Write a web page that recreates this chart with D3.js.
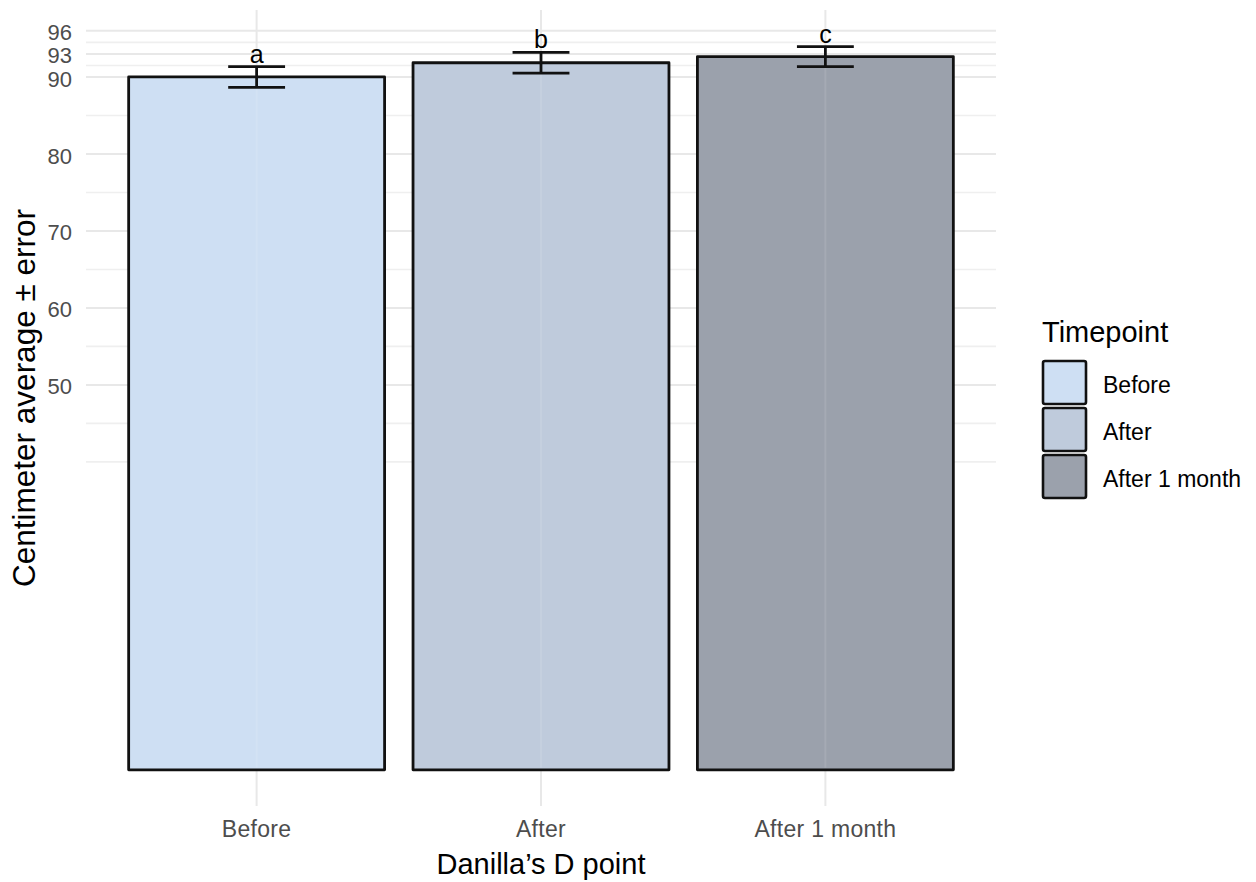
<!DOCTYPE html>
<html>
<head>
<meta charset="utf-8">
<script src="https://cdn.jsdelivr.net/npm/d3@7"></script>
<style>
  html, body { margin: 0; padding: 0; background: #ffffff; }
  svg { display: block; font-family: "Liberation Sans", Arial, sans-serif; }
</style>
</head>
<body>
<svg id="chart" width="1256" height="882"></svg>
<script>
// Danilla's D point measurements at three timepoints
const categories = ["Before", "After", "After 1 month"];
const means = [90.0, 91.85, 92.65];
const errors = [1.35, 1.35, 1.3];
const groupLetters = ["a", "b", "c"];
const fills = ["#cedff3", "#bfcbdc", "#9ba1ac"];
const yTicks = [50, 60, 70, 80, 90, 93, 96];
const yMinor = [40, 45, 55, 65, 75, 85, 91.5, 94.5];

const svg = d3.select("#chart");

// panel geometry
const panel = { left: 86, right: 996, top: 10, bottom: 806 };

const x = d3.scaleBand()
  .domain(categories)
  .range([panel.left, panel.right])
  .paddingOuter(0.1)
  .paddingInner(0);
// bar width is 90% of the step, error-bar caps 20%
const barW = x.step() * 0.9;
const capW = x.step() * 0.2;
const cx = d => x(d) + x.bandwidth() / 2;

const y = d3.scaleLinear()
  .domain([-4.7, 98.7])
  .range([panel.bottom, panel.top]);

const g = svg.append("g");

// minor horizontal grid
g.selectAll("line.minor")
  .data(yMinor).enter().append("line")
  .attr("class", "minor")
  .attr("x1", panel.left).attr("x2", panel.right)
  .attr("y1", d => y(d)).attr("y2", d => y(d))
  .attr("stroke", "#efefef").attr("stroke-width", 1.6);

// major horizontal grid
g.selectAll("line.major")
  .data(yTicks).enter().append("line")
  .attr("class", "major")
  .attr("x1", panel.left).attr("x2", panel.right)
  .attr("y1", d => y(d)).attr("y2", d => y(d))
  .attr("stroke", "#e8e8e8").attr("stroke-width", 2);

// vertical grid at each category
g.selectAll("line.vgrid")
  .data(categories).enter().append("line")
  .attr("class", "vgrid")
  .attr("x1", cx).attr("x2", cx)
  .attr("y1", panel.top).attr("y2", panel.bottom)
  .attr("stroke", "#e8e8e8").attr("stroke-width", 2);

// bars
g.selectAll("rect.bar")
  .data(categories).enter().append("rect")
  .attr("class", "bar")
  .attr("x", d => cx(d) - barW / 2)
  .attr("width", barW)
  .attr("y", (d, i) => y(means[i]))
  .attr("height", (d, i) => y(0) - y(means[i]))
  .attr("fill", (d, i) => fills[i])
  .attr("stroke", "#111")
  .attr("stroke-width", 2.8)
  .attr("stroke-linejoin", "round");

// faint grid line showing through the translucent bars
g.selectAll("line.through")
  .data(categories).enter().append("line")
  .attr("class", "through")
  .attr("x1", cx).attr("x2", cx)
  .attr("y1", (d, i) => y(means[i]) + 2).attr("y2", y(0) - 2)
  .attr("stroke", "#ffffff").attr("stroke-opacity", 0.1).attr("stroke-width", 2);

// error bars
const eb = g.selectAll("g.err").data(categories).enter().append("g").attr("class", "err")
  .attr("stroke", "#111").attr("stroke-width", 2.8);
eb.append("line")
  .attr("x1", cx).attr("x2", cx)
  .attr("y1", (d, i) => y(means[i] - errors[i]))
  .attr("y2", (d, i) => y(means[i] + errors[i]));
eb.append("line")
  .attr("x1", d => cx(d) - capW / 2).attr("x2", d => cx(d) + capW / 2)
  .attr("y1", (d, i) => y(means[i] + errors[i]))
  .attr("y2", (d, i) => y(means[i] + errors[i]));
eb.append("line")
  .attr("x1", d => cx(d) - capW / 2).attr("x2", d => cx(d) + capW / 2)
  .attr("y1", (d, i) => y(means[i] - errors[i]))
  .attr("y2", (d, i) => y(means[i] - errors[i]));

// significance letters
g.selectAll("text.letter")
  .data(categories).enter().append("text")
  .attr("class", "letter")
  .attr("x", cx)
  .attr("y", (d, i) => y(means[i] + errors[i]) - 4)
  .attr("text-anchor", "middle")
  .attr("font-size", 25)
  .attr("fill", "#000")
  .text((d, i) => groupLetters[i]);

// y axis labels
const yAxis = d3.axisLeft(y).tickValues(yTicks).tickSize(0).tickPadding(0);
const ya = svg.append("g").attr("transform", `translate(${panel.left - 14},2)`).call(yAxis);
ya.select(".domain").remove();
ya.selectAll("text").attr("font-size", 22).attr("fill", "#4d4d4d")
  .attr("font-family", "Liberation Sans, Arial, sans-serif");

// x axis labels
const xAxis = d3.axisBottom(x).tickSize(0).tickPadding(0);
const xa = svg.append("g").attr("transform", `translate(0,${panel.bottom + 15})`).call(xAxis);
xa.select(".domain").remove();
xa.selectAll("text").attr("font-size", 23).attr("fill", "#4d4d4d")
  .attr("letter-spacing", 0.3)
  .attr("font-family", "Liberation Sans, Arial, sans-serif");

// axis titles
svg.append("text")
  .attr("x", (panel.left + panel.right) / 2)
  .attr("y", 874)
  .attr("text-anchor", "middle")
  .attr("font-size", 29)
  .attr("fill", "#000")
  .text("Danilla\u2019s D point");

svg.append("text")
  .attr("transform", `translate(35,${(panel.top + panel.bottom) / 2 - 10}) rotate(-90)`)
  .attr("text-anchor", "middle")
  .attr("font-size", 31.5)
  .attr("fill", "#000")
  .text("Centimeter average \u00b1 error");

// legend
const legend = svg.append("g").attr("transform", "translate(1042,0)");
legend.append("text")
  .attr("x", 0).attr("y", 342)
  .attr("font-size", 29)
  .attr("fill", "#000")
  .text("Timepoint");
const key = legend.selectAll("g.key").data(categories).enter().append("g")
  .attr("class", "key")
  .attr("transform", (d, i) => `translate(0,${360 + i * 47})`);
key.append("rect")
  .attr("x", 1).attr("y", 1).attr("width", 43).attr("height", 43)
  .attr("rx", 2)
  .attr("fill", (d, i) => fills[i])
  .attr("stroke", "#111").attr("stroke-width", 2.6);
key.append("text")
  .attr("x", 61).attr("y", 25)
  .attr("dy", "0.35em")
  .attr("font-size", 23)
  .attr("fill", "#000")
  .text(d => d);
</script>
</body>
</html>
